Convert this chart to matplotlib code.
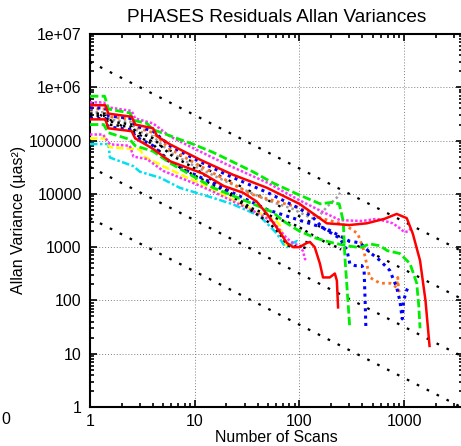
import matplotlib
matplotlib.use("Agg")
import matplotlib.pyplot as plt
from matplotlib.ticker import FixedLocator, LogLocator, NullFormatter

plt.rcParams["font.family"] = ["Liberation Sans", "DejaVu Sans"]
plt.rcParams["font.size"] = 11.4

# Allan variance curves (Number of Scans, variance in uas^2)
red1_x = [1, 1.4, 1.5, 2.5, 2.7, 4.0, 4.4, 5.8, 11.2, 23, 49, 100, 183, 300, 440, 650, 850, 1060, 1210, 1420, 1600, 1750]
red1_y = [4.6e5, 4.6e5, 3.2e5, 2.8e5, 2.0e5, 1.7e5, 1.2e5, 8.5e4, 4.4e4, 2.3e4, 1.3e4, 6.5e3, 2.8e3, 2.6e3, 2.8e3, 3.4e3, 4.2e3, 3.5e3, 1.8e3, 560, 100, 14]

green1_x = [1, 1.38, 1.5, 2.4, 2.6, 3.5, 4.0, 5.4, 7.2, 9.6, 15, 23, 36, 56, 100, 158, 200, 240, 262, 272, 282, 303]
green1_y = [6.8e5, 6.8e5, 3.9e5, 3.3e5, 2.4e5, 2.1e5, 1.6e5, 1.3e5, 1.05e5, 8.6e4, 6.0e4, 4.0e4, 2.6e4, 1.6e4, 9.5e3, 6.5e3, 6.9e3, 6.5e3, 3.1e3, 640, 235, 30]

magenta1_x = [1, 1.35, 1.5, 2.5, 2.7, 4, 5.8, 10, 20, 50, 100, 170, 245, 400, 550, 780, 900, 1010, 1100, 1180]
magenta1_y = [5.2e5, 5.2e5, 4.2e5, 3.6e5, 2.6e5, 2.1e5, 1.2e5, 7.0e4, 3.6e4, 1.6e4, 7.6e3, 4.5e3, 3.2e3, 3.1e3, 3.4e3, 2.8e3, 2.3e3, 1.9e3, 2.0e3, 2.3e3]

blue1_x = [1, 1.4, 1.5, 2.5, 2.7, 4, 5.8, 10, 20, 50, 100, 135, 167, 245, 285, 303, 340, 395, 415, 425, 432]
blue1_y = [4.1e5, 4.1e5, 2.9e5, 2.6e5, 1.9e5, 1.5e5, 8.0e4, 4.5e4, 2.3e4, 1.05e4, 5.3e3, 3.6e3, 2.3e3, 1.45e3, 860, 490, 450, 450, 365, 90, 28]

orange_x = [1, 1.4, 1.5, 2.5, 2.7, 4, 5.8, 10, 20, 34, 50, 100, 160, 245, 300, 360, 405, 470, 590, 735, 850, 870, 890, 930]
orange_y = [3.9e5, 3.9e5, 2.8e5, 2.5e5, 1.8e5, 1.4e5, 7.0e4, 3.8e4, 1.8e4, 1.0e4, 8.0e3, 5.5e3, 3.5e3, 2.8e3, 2.3e3, 1.8e3, 980, 270, 210, 210, 175, 270, 150, 160]

green2_x = [1, 1.35, 1.5, 2.4, 2.7, 4, 5.8, 15, 34, 56, 70, 100, 147, 210, 285, 380, 470, 590, 690, 910, 1140, 1320, 1380, 1420]
green2_y = [2.0e5, 2.0e5, 1.4e5, 1.05e5, 8.0e4, 6.3e4, 3.8e4, 1.3e4, 6.8e3, 4.5e3, 3.1e3, 2.0e3, 1.45e3, 1.2e3, 1.06e3, 980, 1.15e3, 1.06e3, 860, 760, 490, 210, 80, 30]

red2_x = [1, 1.4, 1.5, 2.5, 2.7, 4, 5.8, 12, 19, 29, 39, 49, 61, 76, 87, 100, 118, 126, 140, 157, 168, 195, 218, 228, 234]
red2_y = [2.5e5, 2.5e5, 1.7e5, 1.5e5, 1.1e5, 7.0e4, 4.1e4, 2.4e4, 1.4e4, 1.05e4, 7.2e3, 4.2e3, 2.3e3, 1.2e3, 1.0e3, 1.0e3, 1.2e3, 1.25e3, 1.0e3, 490, 270, 270, 320, 235, 74]

blue2_x = [1, 1.4, 1.5, 2.5, 2.7, 4, 5.8, 10, 20, 50, 100, 183, 300, 380, 470, 590, 730, 850, 910, 960, 990, 1060, 1090]
blue2_y = [2.6e5, 2.6e5, 1.8e5, 1.6e5, 1.2e5, 8.0e4, 3.9e4, 2.3e4, 1.2e4, 5.0e3, 3.2e3, 2.2e3, 1.3e3, 1.2e3, 800, 560, 365, 175, 100, 45, 100, 155, 175]

black1_x = [1, 1.4, 1.5, 2.5, 2.7, 4, 5.8, 10, 20, 34, 50, 65, 76, 87, 100, 110, 118]
black1_y = [2.9e5, 2.9e5, 2.0e5, 1.8e5, 1.3e5, 8.5e4, 4.0e4, 2.2e4, 1.1e4, 5.0e3, 3.0e3, 1.8e3, 1.1e3, 1.0e3, 1.1e3, 900, 1.3e3]

black2_x = [1, 1.4, 1.5, 2.5, 2.7, 4, 5.8, 10, 20, 34, 60, 95, 147, 183, 228, 250]
black2_y = [3.2e5, 3.2e5, 2.3e5, 2.0e5, 1.5e5, 1.1e5, 5.5e4, 3.0e4, 1.2e4, 5.5e3, 3.5e3, 2.5e3, 1.5e3, 1.2e3, 1.0e3, 900]

gray_x = [1, 1.4, 1.5, 2.5, 2.7, 4, 5.8, 10, 20, 50, 87, 100, 130, 150, 183, 228, 245]
gray_y = [3.4e5, 3.4e5, 2.5e5, 2.2e5, 1.6e5, 1.2e5, 6.0e4, 3.3e4, 1.7e4, 7.5e3, 5.2e3, 4.5e3, 3.5e3, 3.6e3, 5.7e3, 8.5e3, 1.05e4]

magenta2_x = [1, 1.33, 1.55, 2.4, 2.6, 3.5, 5, 10.5, 15, 23, 36, 56, 76, 87, 100, 108, 113, 117]
magenta2_y = [1.3e5, 1.3e5, 8.5e4, 8.0e4, 5.0e4, 4.5e4, 2.7e4, 1.5e4, 1.1e4, 7.3e3, 4.8e3, 3.0e3, 1.45e3, 1.2e3, 1.05e3, 850, 600, 560]

yellow_x = [1, 1.4, 1.55, 3.0, 3.3, 5, 9, 12, 18, 30, 45, 52, 61, 65, 70, 76]
yellow_y = [1.1e5, 1.1e5, 7.5e4, 6.8e4, 5.0e4, 3.3e4, 1.9e4, 1.5e4, 1.0e4, 6.0e3, 4.0e3, 3.6e3, 3.0e3, 2.6e3, 1.5e3, 1.05e3]

cyan_x = [1, 1.5, 1.55, 2.6, 3, 4.7, 7.2, 15, 23, 34, 42, 61, 70, 76, 87, 95, 100]
cyan_y = [8.6e4, 8.6e4, 4.8e4, 3.3e4, 2.6e4, 2.0e4, 1.3e4, 8.4e3, 6.4e3, 4.6e3, 3.8e3, 1.8e3, 1.15e3, 1.0e3, 1.2e3, 1.3e3, 1.2e3]

# 1/N reference lines (value at N=1)
ref_consts = [3.0e6, 3.8e5, 3.2e4, 3.5e3]
ref_x = [1, 4000]

y_ticks = [1, 10, 100, 1000, 1e4, 1e5, 1e6, 1e7]
y_labels = ["1", "10", "100", "1000", "10000", "100000", "1e+06", "1e+07"]
x_ticks = [1, 10, 100, 1000]
x_labels = ["1", "10", "100", "1000"]

fig = plt.figure(figsize=(4.61, 4.46), dpi=100)
ax = fig.add_axes([90 / 461, 39 / 446, 373 / 461, 373 / 446])
ax.set_xscale("log")
ax.set_yscale("log")
ax.set_xlim(1, 10 ** (373 / 104.7))
ax.set_ylim(1, 1e7)

# reference lines
for c in ref_consts:
    ax.plot(ref_x, [c / x for x in ref_x], color="black", lw=1.6,
            linestyle=(0, (1.2, 3.8)), zorder=2)

curves = [
    (cyan_x, cyan_y, "#00e0f0", (0, (3, 1, 1, 1)), 1.8),
    (yellow_x, yellow_y, "#ffff00", (0, (3, 1.2)), 1.8),
    (magenta2_x, magenta2_y, "#ff33ff", (0, (1, 0.8)), 1.8),
    (gray_x, gray_y, "#a0a0a0", (0, (1, 1.2)), 1.8),
    (black2_x, black2_y, "black", (0, (1, 1.6)), 1.8),
    (black1_x, black1_y, "black", (0, (1, 1.6)), 1.8),
    (orange_x, orange_y, "#ff7020", (0, (1, 1.3)), 2.0),
    (blue2_x, blue2_y, "#0000ff", (0, (1, 1.4)), 2.2),
    (green2_x, green2_y, "#00ee00", (0, (3, 1.2)), 2.0),
    (red2_x, red2_y, "#ff0000", "-", 1.8),
    (blue1_x, blue1_y, "#0000ff", (0, (1, 1.4)), 2.2),
    (magenta1_x, magenta1_y, "#ff33ff", (0, (1, 0.8)), 1.8),
    (green1_x, green1_y, "#00ee00", (0, (3, 1.2)), 2.0),
    (red1_x, red1_y, "#ff0000", "-", 1.8),
]
for xs, ys, col, ls, lw in curves:
    ax.plot(xs, ys, color=col, linestyle=ls, lw=lw, zorder=3)

# axes styling
ax.yaxis.set_major_locator(FixedLocator(y_ticks))
ax.set_yticklabels(y_labels)
ax.xaxis.set_major_locator(FixedLocator(x_ticks))
ax.set_xticklabels(x_labels)
ax.xaxis.set_minor_locator(LogLocator(base=10, subs=range(2, 10), numticks=20))
ax.yaxis.set_minor_locator(LogLocator(base=10, subs=range(2, 10), numticks=20))
ax.xaxis.set_minor_formatter(NullFormatter())
ax.yaxis.set_minor_formatter(NullFormatter())
ax.tick_params(which="both", direction="in", top=True, right=True, width=1.2)
ax.tick_params(which="major", length=5)
ax.tick_params(which="minor", length=3)
ax.tick_params(axis="x", which="major", pad=5)
ax.tick_params(axis="y", which="major", pad=6)
for sp in ax.spines.values():
    sp.set_linewidth(1.5)

ax.grid(True, which="major", color="#808080", linestyle=(0, (1, 2)), lw=0.7)

ax.set_title("PHASES Residuals Allan Variances", pad=9)
fig.text(276 / 461, 1 - 438 / 446, "Number of Scans", ha="center", va="center")
fig.text(19 / 461, 1 - 220 / 446, "Allan Variance (\u00b5as\u00b2)", rotation=90,
         ha="center", va="center")
fig.text(1 / 461, 1 - 419 / 446, "0", ha="left", va="center")

fig.savefig("out.png", dpi=100)
